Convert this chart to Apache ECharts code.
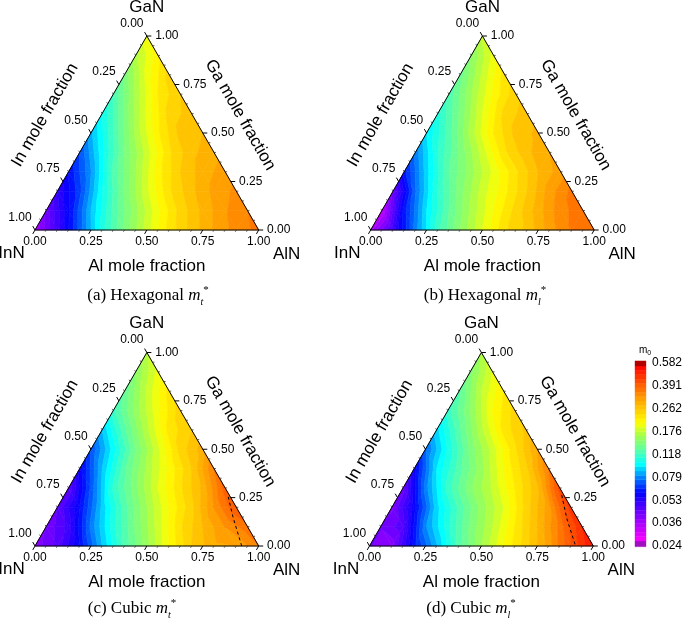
<!DOCTYPE html>
<html><head><meta charset="utf-8">
<style>html,body{margin:0;padding:0;background:#fff}#c{width:685px;height:619px}</style>
<script src="https://cdn.jsdelivr.net/npm/echarts@6/dist/echarts.min.js"></script>
</head><body><div id="c"></div>
<script>
// Effective mass (m0) on ternary nodes: row = Ga fraction 0,0.1..1; column = Al fraction 0,0.1..
const hexTransverse = [
 [.033,.047,.070,.105,.141,.183,.230,.270,.310,.345,.370],
 [.040,.057,.086,.121,.158,.203,.250,.290,.330,.360],
 [.049,.066,.100,.141,.187,.238,.278,.315,.340],
 [.058,.079,.121,.162,.215,.262,.296,.320],
 [.068,.098,.139,.183,.238,.278,.300],
 [.084,.118,.166,.220,.270,.284],
 [.100,.141,.195,.250,.273],
 [.118,.166,.224,.262],
 [.141,.197,.250],
 [.169,.218],
 [.203]];
const hexLongitudinal = [
 [.032,.047,.076,.115,.150,.191,.238,.268,.320,.365,.380],
 [.030,.060,.093,.128,.166,.207,.250,.296,.350,.380],
 [.040,.073,.110,.145,.183,.218,.262,.320,.370],
 [.060,.090,.128,.158,.195,.238,.284,.320],
 [.075,.109,.141,.183,.238,.278,.308],
 [.093,.123,.169,.224,.270,.290],
 [.106,.141,.191,.250,.273],
 [.121,.162,.211,.256],
 [.133,.179,.232],
 [.150,.197],
 [.179]];
const cubicTransverse = [
 [.037,.043,.058,.086,.121,.158,.207,.262,.302,.308,.362],
 [.039,.047,.075,.106,.141,.183,.238,.284,.334,.380],
 [.042,.058,.088,.123,.162,.207,.256,.334,.424],
 [.042,.069,.111,.147,.191,.238,.290,.406],
 [.055,.086,.125,.166,.211,.262,.362],
 [.068,.097,.139,.187,.250,.296],
 [.086,.125,.172,.230,.262],
 [.115,.155,.203,.253],
 [.130,.179,.230],
 [.150,.197],
 [.172]];
const cubicLongitudinal = [
 [.039,.037,.060,.085,.123,.162,.207,.253,.320,.424,.540],
 [.039,.044,.078,.106,.141,.176,.224,.284,.370,.498],
 [.038,.056,.090,.121,.155,.191,.250,.320,.480],
 [.040,.076,.113,.147,.179,.224,.278,.440],
 [.055,.093,.123,.158,.207,.256,.362],
 [.072,.102,.141,.183,.238,.308],
 [.090,.125,.172,.230,.268],
 [.113,.150,.207,.250],
 [.125,.176,.224],
 [.145,.191],
 [.165]];
const boundaryCubicTAl = [.737,.810,.924];
const boundaryCubicTGa = [.254,.150,0];
const boundaryCubicLAl = [.7275,.812,.921];
const boundaryCubicLGa = [.263,.140,0];
const colorbarLabels = ["0.024","0.036","0.053","0.079","0.118","0.176","0.262","0.391","0.582"];
const sideFractions = [0,.25,.5,.75,1];
const cornerNames = ["InN","AlN","GaN"];
const axisTitles = ["Al mole fraction","In mole fraction","Ga mole fraction"];
const captions = [["(a) Hexagonal ","t"],["(b) Hexagonal ","l"],["(c) Cubic ","t"],["(d) Cubic ","l"]];

const panels = [
 {values:hexTransverse, left:35, top:36, w:223.7, h:194, cap:143, capY:295},
 {values:hexLongitudinal, left:370.7, top:36, w:223.5, h:194, cap:480, capY:295},
 {values:cubicTransverse, left:35, top:352.5, w:223.7, h:193.5, cap:127, capY:608, bAl:boundaryCubicTAl, bGa:boundaryCubicTGa},
 {values:cubicLongitudinal, left:369.5, top:352.5, w:223.8, h:193.5, cap:466, capY:608, bAl:boundaryCubicLAl, bGa:boundaryCubicLGa}
];

const VMIN=0.024, VMAX=0.582, BANDS_PER=5, NB=40;
const scaleOf = v => Math.log(v/VMIN)/Math.log(VMAX/VMIN)*8;
const stops = [[0,[255,0,255]],[.9,[160,0,255]],[2.2,[0,0,255]],[2.9,[0,128,255]],[3.5,[0,255,255]],[4.2,[96,255,160]],[4.8,[160,255,80]],[5.4,[255,255,0]],[6.5,[255,160,0]],[7.7,[255,32,0]],[8,[255,0,0]]];
function colorAt(s){
  for(let i=1;i<stops.length;i++){ if(s<=stops[i][0]){
    const a=stops[i-1],b=stops[i],t=(s-a[0])/(b[0]-a[0]);
    return 'rgb('+a[1].map((c,k)=>Math.round(c+(b[1][k]-c)*t)).join(',')+')';
  }}
  return 'rgb(255,0,0)';
}
function clip(poly,level,keepAbove){
  const out=[];
  for(let i=0;i<poly.length;i++){
    const p=poly[i],q=poly[(i+1)%poly.length];
    const pin=keepAbove?p[2]>=level:p[2]<=level, qin=keepAbove?q[2]>=level:q[2]<=level;
    if(pin) out.push(p);
    if(pin!==qin){const t=(level-p[2])/(q[2]-p[2]);out.push([p[0]+(q[0]-p[0])*t,p[1]+(q[1]-p[1])*t,level]);}
  }
  return out;
}
function triangles(tbl){
  const out=[];
  for(let i=0;i<tbl.length-1;i++)for(let j=0;j<tbl[i].length-1;j++){
    const n=(r,c)=>[c/10,r/10,tbl[r][c]];
    out.push([...n(i,j),...n(i,j+1),...n(i+1,j)]);
    if(j+1<tbl[i+1].length) out.push([...n(i,j+1),...n(i+1,j),...n(i+1,j+1)]);
  }
  return out;
}
function renderCell(params,api){
  const tri=[0,3,6].map(k=>{const a=api.value(k),g=api.value(k+1);return [a+g/2,g,scaleOf(api.value(k+2))];});
  const lo=Math.min(tri[0][2],tri[1][2],tri[2][2]),hi=Math.max(tri[0][2],tri[1][2],tri[2][2]);
  const children=[];
  for(let b=Math.floor(lo*BANDS_PER);b<=Math.floor(hi*BANDS_PER);b++){
    const s0=b/BANDS_PER,s1=(b+1)/BANDS_PER;
    let poly=clip(tri,s0,true); if(poly.length<3)continue;
    poly=clip(poly,s1,false); if(poly.length<3)continue;
    const col=colorAt((s0+s1)/2);
    children.push({type:'polygon',silent:true,shape:{points:poly.map(p=>api.coord([p[0],p[1]]))},style:{fill:col,stroke:col,lineWidth:.6}});
  }
  return {type:'group',children};
}
function renderFrame(params,api){
  const c=[api.coord([0,0]),api.coord([1,0]),api.coord([.5,1])];
  const kids=[{type:'polygon',shape:{points:c},style:{fill:'none',stroke:'#000',lineWidth:1}}];
  const tick=(p,dx,dy,major)=>{const len=major?4.5:2;kids.push({type:'line',shape:{x1:p[0],y1:p[1],x2:p[0]+dx*len,y2:p[1]+dy*len},style:{stroke:major?'#000':'#333',lineWidth:major?1:.8}});};
  for(let i=0;i<=20;i++){
    const f=i/20,major=i%5===0;
    tick(api.coord([f,0]),-.5,.866,major);
    tick(api.coord([(1-f)/2,1-f]),-.5,-.866,major);
    tick(api.coord([1-f/2,f]),1,0,major);
  }
  const txt=(text,x,y,size,rot)=>kids.push({type:'text',x,y,rotation:rot||0,style:{text,x:0,y:0,font:size+'px "Liberation Sans"',fill:'#000',textAlign:'center',textVerticalAlign:'middle'}});
  sideFractions.forEach(f=>{
    const L=api.coord([(1-f)/2,1-f]);
    txt(f.toFixed(2),L[0]-15,L[1]-12.5,12);
    const R=api.coord([1-f/2,f]);
    txt(f.toFixed(2),R[0]+20,R[1],12);
  });
  txt(cornerNames[0],c[0][0]-23.5,c[0][1]+23.5,17);
  txt(cornerNames[1],c[1][0]+28,c[1][1]+24,17);
  txt(cornerNames[2],c[2][0],c[2][1]-29,17);
  txt(axisTitles[1],c[0][0]+10,c[2][1]+79,17,Math.PI/3);
  txt(axisTitles[2],c[1][0]-18.5,c[2][1]+79,17,-Math.PI/3);
  return {type:'group',children:kids};
}

const grid=[],xAxis=[],yAxis=[],series=[],title=[];
panels.forEach((p,i)=>{
  grid.push({left:p.left,top:p.top,width:p.w,height:p.h});
  xAxis.push({gridIndex:i,type:'value',min:0,max:1,interval:.25,splitLine:{show:false},axisTick:{show:false},
    axisLine:{show:false},
    axisLabel:{margin:6,color:'#000',fontFamily:'Liberation Sans',fontSize:12,formatter:v=>v.toFixed(2)},
    name:axisTitles[0],nameLocation:'middle',nameGap:28,nameTextStyle:{color:'#000',fontFamily:'Liberation Sans',fontSize:17}});
  yAxis.push({gridIndex:i,type:'value',min:0,max:1,show:false});
  series.push({type:'custom',xAxisIndex:i,yAxisIndex:i,renderItem:renderCell,data:triangles(p.values),clip:false,silent:true,animation:false,z:2,coordinateSystem:'cartesian2d'});
  series.push({type:'custom',xAxisIndex:i,yAxisIndex:i,renderItem:renderFrame,data:[[0,0]],clip:false,silent:true,animation:false,z:4,coordinateSystem:'cartesian2d'});
  if(p.bAl) series.push({type:'line',xAxisIndex:i,yAxisIndex:i,data:p.bAl.map((a,k)=>[a+p.bGa[k]/2,p.bGa[k]]),showSymbol:false,silent:true,animation:false,z:5,
    lineStyle:{color:'#000',width:1,type:[3,3]}});
  const cap=captions[i];
  const T={fontFamily:'Liberation Serif',fontWeight:'normal',color:'#000',lineHeight:22};
  title.push({left:p.cap,top:p.capY-15,textAlign:'center',
    text:'{n|'+cap[0]+'}{m|m}{s|'+cap[1]+'}{u|*}',
    textStyle:{fontWeight:'normal',rich:{
      n:{...T,fontSize:17},
      m:{...T,fontStyle:'italic',fontSize:17},
      s:{...T,fontStyle:'italic',fontSize:10,verticalAlign:'bottom'},
      u:{...T,fontSize:11,verticalAlign:'top'}}}});
});
// colour scale
grid.push({left:635,top:363,width:16.5,height:183});
xAxis.push({gridIndex:4,type:'value',min:0,max:1,show:false});
yAxis.push({gridIndex:4,type:'value',min:0,max:8,interval:1,position:'right',splitLine:{show:false},axisLine:{show:false},axisTick:{show:false},
  axisLabel:{margin:6,color:'#000',fontFamily:'Liberation Sans',fontSize:12,formatter:v=>colorbarLabels[v]}});
const barIndex=s=>.2186+.9563*s;
const bandIdx=[];for(let k=-1;k<=NB;k++)bandIdx.push([k]);
series.push({type:'custom',xAxisIndex:4,yAxisIndex:4,clip:false,silent:true,animation:false,data:bandIdx,
  renderItem(params,api){
    const k=api.value(0);
    let lo=barIndex(k/BANDS_PER),hi=barIndex((k+1)/BANDS_PER),col;
    if(k<0){lo=-.03;hi=barIndex(0);col='#a010c0';}
    else if(k>=NB){lo=barIndex(8);hi=8.09;col='#b00000';}
    else col=colorAt((k+.5)/BANDS_PER);
    const a=api.coord([0,hi]),b=api.coord([1,lo]);
    return {type:'rect',shape:{x:a[0],y:a[1],width:b[0]-a[0],height:b[1]-a[1]},style:{fill:col,stroke:col,lineWidth:.4}};
  }});
title.push({left:640,top:338,textAlign:'center',text:'{a|m}{b|0}',textStyle:{fontWeight:'normal',rich:{
  a:{fontFamily:'Liberation Sans',fontWeight:'normal',fontSize:10,color:'#000',lineHeight:14},
  b:{fontFamily:'Liberation Sans',fontWeight:'normal',fontSize:7,color:'#000',lineHeight:14,verticalAlign:'bottom'}}}});

const chart=echarts.init(document.getElementById('c'),null,{renderer:'canvas'});
chart.setOption({animation:false,backgroundColor:'#fff',title,grid,xAxis,yAxis,series});
</script></body></html>
